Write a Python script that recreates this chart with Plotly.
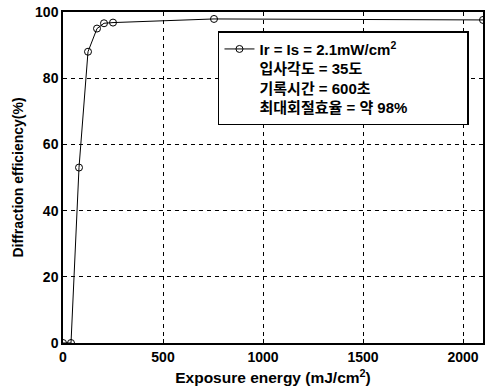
import plotly.graph_objects as go

exposure = [0, 40, 80, 125, 170, 205, 250, 755, 2100]
efficiency = [0, 0, 53, 88, 95, 96.6, 96.8, 97.9, 97.6]
legend_label = ("Ir = Is = 2.1mW/cm<sup>2</sup><br>입사각도 = 35도<br>"
                "기록시간 = 600초<br>최대회절효율 = 약 98%" + "\u00a0" * 13)
x_ticks = [0, 500, 1000, 1500, 2000]
y_ticks = [0, 20, 40, 60, 80, 100]

font_family = "Liberation Sans, Noto Sans CJK KR, Arial, sans-serif"

fig = go.Figure()
fig.add_trace(go.Scatter(
    x=exposure, y=efficiency, mode="lines+markers", name=legend_label,
    line=dict(color="black", width=1),
    marker=dict(symbol="circle-open", size=7, color="black", line=dict(width=1)),
))

axis_common = dict(
    showline=True, linecolor="black", linewidth=1.5, mirror=True,
    showgrid=True, gridcolor="#000000", griddash="4px,4px", gridwidth=1,
    ticks="inside", ticklen=4, tickcolor="black",
    zeroline=False, automargin=False,
    tickfont=dict(size=14, color="black", family=font_family, weight="bold"),
)

fig.update_layout(
    width=486, height=392,
    margin=dict(l=63, r=3, t=12, b=49),
    paper_bgcolor="white", plot_bgcolor="white",
    font=dict(family=font_family, color="black"),
    showlegend=True,
    legend=dict(
        x=0.369, y=0.942, xanchor="left", yanchor="top",
        bgcolor="white", bordercolor="black", borderwidth=1.5,
        font=dict(size=15, family="Liberation Sans, Noto Sans CJK KR", weight="bold", color="black"),
        valign="top", itemwidth=30, tracegroupgap=0,
    ),
    xaxis=dict(
        range=[0, 2100], tickvals=x_ticks,
        title=dict(text="Exposure energy (mJ/cm<sup>2</sup>)", standoff=9,
                   font=dict(size=15.5, family=font_family, weight="bold", color="black")),
        **axis_common,
    ),
    yaxis=dict(
        range=[0, 100], tickvals=y_ticks,
        title=dict(text="Diffraction efficiency(%)", standoff=8,
                   font=dict(size=14, family=font_family, weight="bold", color="black")),
        **axis_common,
    ),
)

fig.write_html(
    "out.html",
    config={"displayModeBar": False},
    post_script="document.body.style.margin='0';document.body.style.padding='0';",
)
